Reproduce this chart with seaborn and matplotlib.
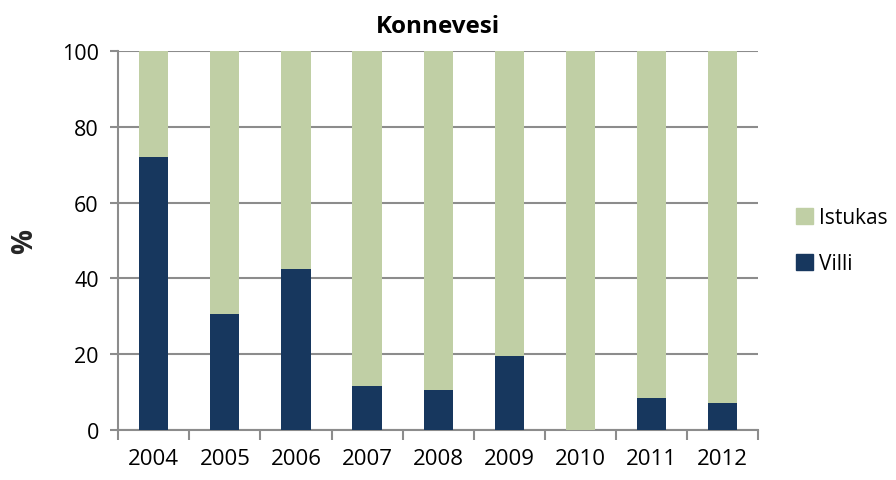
import matplotlib
matplotlib.use("Agg")
import matplotlib.pyplot as plt
import matplotlib.patches as mpatches
import numpy as np
import pandas as pd
import seaborn as sns

# Data (percent)
years = ["2004", "2005", "2006", "2007", "2008", "2009", "2010", "2011", "2012"]
villi = [72, 30.6, 42.5, 11.5, 10.5, 19.4, 0, 8.4, 7.0]
istukas = [28, 69.4, 57.5, 88.5, 89.5, 80.6, 100, 91.6, 93.0]
y_ticks = [0, 20, 40, 60, 80, 100]

GREEN = "#C0CFA5"
NAVY = "#17375E"
GRID = "#8C8C8C"

df = pd.DataFrame({"year": years, "Villi": villi, "Istukas": istukas})
df["total"] = df["Villi"] + df["Istukas"]

sns.set_style("white")
plt.rcParams["font.family"] = ["Open Sans", "DejaVu Sans"]
plt.rcParams["text.color"] = "black"
plt.rcParams["xtick.color"] = "black"
plt.rcParams["ytick.color"] = "black"

fig = plt.figure(figsize=(8.96, 4.81), dpi=100)
ax = fig.add_axes([0.132, 0.104, 0.714, 0.788])

# stacked bars: total (Istukas on top) then Villi at the bottom
sns.barplot(data=df, x="year", y="total", color=GREEN, width=0.41,
            saturation=1, ax=ax, zorder=3, linewidth=0)
sns.barplot(data=df, x="year", y="Villi", color=NAVY, width=0.41,
            saturation=1, ax=ax, zorder=4, linewidth=0)

ax.set_ylim(0, 100)
ax.set_xlim(-0.5, len(years) - 0.5)
ax.set_yticks(y_ticks)
ax.set_yticklabels([str(t) for t in y_ticks], fontsize=15.5)
ax.set_xticklabels(years, fontsize=16)
ax.tick_params(axis="x", which="major", bottom=False, length=0, pad=13)
ax.tick_params(axis="y", left=True, length=6, color=GRID, width=1.5,
               direction="out", pad=8)

# category boundary ticks on x axis
ax.set_xticks(np.arange(-0.5, len(years)), minor=True)
ax.tick_params(axis="x", which="minor", bottom=True, length=7, color=GRID,
               width=1.5, direction="out")

ax.yaxis.grid(True, color=GRID, linewidth=1.5, zorder=0)
ax.set_axisbelow(True)
for side in ["top", "right"]:
    ax.spines[side].set_visible(False)
for side in ["left", "bottom"]:
    ax.spines[side].set_color(GRID)
    ax.spines[side].set_linewidth(1.5)

ax.set_xlabel("")
ax.set_ylabel("%", fontsize=20, fontweight="bold", labelpad=16)
ax.set_title("Konnevesi", fontsize=17.5, fontweight="bold", pad=14)

handles = [mpatches.Patch(color=GREEN, label="Istukas"),
           mpatches.Patch(color=NAVY, label="Villi")]
ax.legend(handles=handles, loc="center left", bbox_to_anchor=(1.03, 0.5),
          frameon=False, fontsize=15, handlelength=0.8, handleheight=0.8,
          handletextpad=0.3, labelspacing=1.2)

fig.savefig("out.png", dpi=100)
